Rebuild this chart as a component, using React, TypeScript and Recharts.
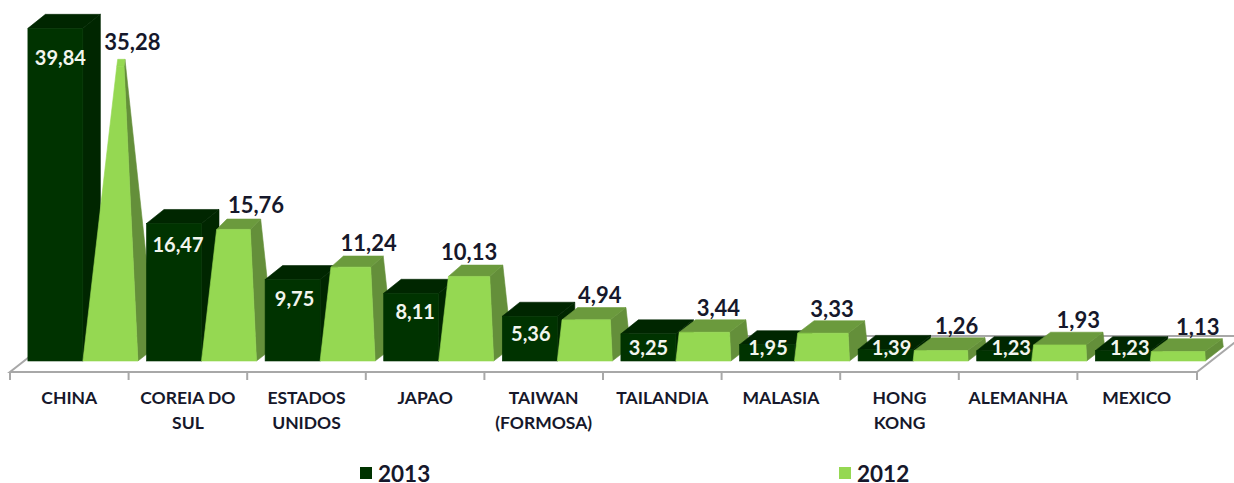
import React from 'react';
import { BarChart, Bar, XAxis, YAxis, LabelList } from 'recharts';

const categories = [
  'CHINA',
  'COREIA DO\nSUL',
  'ESTADOS\nUNIDOS',
  'JAPAO',
  'TAIWAN\n(FORMOSA)',
  'TAILANDIA',
  'MALASIA',
  'HONG\nKONG',
  'ALEMANHA',
  'MEXICO',
];
const values2013 = [39.84, 16.47, 9.75, 8.11, 5.36, 3.25, 1.95, 1.39, 1.23, 1.23];
const values2012 = [35.28, 15.76, 11.24, 10.13, 4.94, 3.44, 3.33, 1.26, 1.93, 1.13];

// horizontal nudges of the value labels, as placed by hand in the original
const nudge2013 = [5, 4, 2, 4, 1, 0, 1, 6, 7, 7];
const nudge2012 = [22, 27, 21, 3, 15, 15, 10, 16, 19, 20];

const FONT = 'Lato, "Open Sans", sans-serif';
const INK = '#16182b';
const GRID = '#a8a8a8';
const DARK = { front: '#003300', side: '#002600' };
const LIGHT = { front: '#95d852', side: '#648f3a', top: '#6b9a3d' };

// one column per series and category, so the paint order runs category by category
const rows = categories.map((name, i) => ({
  name,
  [`a${i}`]: values2013[i],
  [`b${i}`]: values2012[i],
}));

const fmt = (v: number) => v.toFixed(2).replace('.', ',');

const DarkBar = (props: any) => {
  const { x, y, width, height } = props;
  if (!height || height <= 0) return null;
  const r = x + width;
  const b = y + height;
  const dx = 17.5;
  const dy = 14;
  return (
    <g stroke={DARK.side} strokeWidth={0.6}>
      <polygon points={`${r},${y} ${r + dx},${y - dy} ${r + dx},${b - dy} ${r},${b}`} fill={DARK.side} />
      <polygon points={`${x},${y} ${x + dx},${y - dy} ${r + dx},${y - dy} ${r},${y}`} fill={DARK.side} />
      <rect x={x} y={y} width={width} height={height} fill={DARK.front} stroke={DARK.front} />
    </g>
  );
};

// the 2012 series is a truncated pyramid: it narrows and loses depth as it grows
const LightBar = (props: any) => {
  const { x, y, width, height } = props;
  if (!height || height <= 0) return null;
  const r = x + width;
  const b = y + height;
  const lt = x + 0.115 * height;
  const rt = r - 0.047 * height;
  const dx = 18 - 0.058 * height;
  const dy = 13 - 0.02 * height;
  // the tip of a very tall pyramid reads as part of the front face
  const topFill = height > 250 ? LIGHT.front : LIGHT.top;
  return (
    <g strokeWidth={0.6}>
      <polygon points={`${rt},${y} ${rt + dx},${y - dy} ${r + 18},${b - 14} ${r},${b}`} fill={LIGHT.side} stroke={LIGHT.side} />
      <polygon points={`${lt},${y} ${lt + dx},${y - dy} ${rt + dx},${y - dy} ${rt},${y}`} fill={topFill} stroke={topFill} />
      <polygon points={`${x},${b} ${lt},${y} ${rt},${y} ${r},${b}`} fill={LIGHT.front} stroke={LIGHT.front} />
    </g>
  );
};

const darkLabel = (i: number) => (props: any) => {
  const { x, y, width, height } = props;
  if (!height || height <= 0) return null;
  const cy = Math.min(y + 15 + height * 0.04, 347);
  return (
    <text x={x + width / 2 + nudge2013[i]} y={cy} textAnchor="middle" dominantBaseline="central"
      fontFamily={FONT} fontWeight={700} fontSize={20} fill="#f2f5ee">
      {fmt(values2013[i])}
    </text>
  );
};

const lightLabel = (i: number) => (props: any) => {
  const { x, y, width, height } = props;
  if (!height || height <= 0) return null;
  return (
    <text x={x + width / 2 + nudge2012[i]} y={y - 25} textAnchor="middle" dominantBaseline="central"
      fontFamily={FONT} fontWeight={700} fontSize={22} fill={INK}>
      {fmt(values2012[i])}
    </text>
  );
};

const CategoryTick = (props: any) => {
  const { x, payload } = props;
  const cx = x - 14;
  const lines = String(payload.value).split('\n');
  return (
    <g>
      <line x1={cx - 59.3} x2={cx - 59.3} y1={372} y2={380} stroke={GRID} strokeWidth={2} />
      {lines.map((line, i) => (
        <text key={line} x={cx} y={397 + i * 25} textAnchor="middle" dominantBaseline="central"
          fontFamily={FONT} fontWeight={700} fontSize={17.5} fill={INK}>
          {line}
        </text>
      ))}
    </g>
  );
};

const Floor = () => (
  <g fill="none" stroke={GRID} strokeWidth={2}>
    <polyline points="56,336 10,372 1197,372 1243,336 56,336" />
    <line x1={1197} x2={1197} y1={372} y2={380} />
  </g>
);

const LegendMarks = () => (
  <g fontFamily={FONT} fontWeight={700} fontSize={22.5} fill={INK}>
    <rect x={360} y={467} width={12} height={12} fill={DARK.front} />
    <text x={378} y={473} dominantBaseline="central">2013</text>
    <rect x={839} y={467} width={12} height={12} fill={LIGHT.front} />
    <text x={857} y={473} dominantBaseline="central">2012</text>
  </g>
);

const App: React.FC = () => (
  <div style={{ position: 'absolute', left: 0, top: 0, background: '#fff' }}>
    <BarChart
      width={1234}
      height={483}
      data={rows}
      margin={{ top: 27, right: 24, bottom: 0, left: 24 }}
      barCategoryGap={3.9}
      barGap={0}
    >
      <Floor />
      <XAxis dataKey="name" height={122} interval={0} axisLine={false} tickLine={false} tick={<CategoryTick />} />
      <YAxis hide domain={[0, 40]} />
      {categories.flatMap((_, i) => [
        <Bar key={`a${i}`} dataKey={`a${i}`} stackId="dark" shape={<DarkBar />} isAnimationActive={false}>
          <LabelList dataKey={`a${i}`} content={darkLabel(i)} />
        </Bar>,
        <Bar key={`b${i}`} dataKey={`b${i}`} stackId="light" shape={<LightBar />} isAnimationActive={false}>
          <LabelList dataKey={`b${i}`} content={lightLabel(i)} />
        </Bar>,
      ])}
      <LegendMarks />
    </BarChart>
  </div>
);

export default App;
